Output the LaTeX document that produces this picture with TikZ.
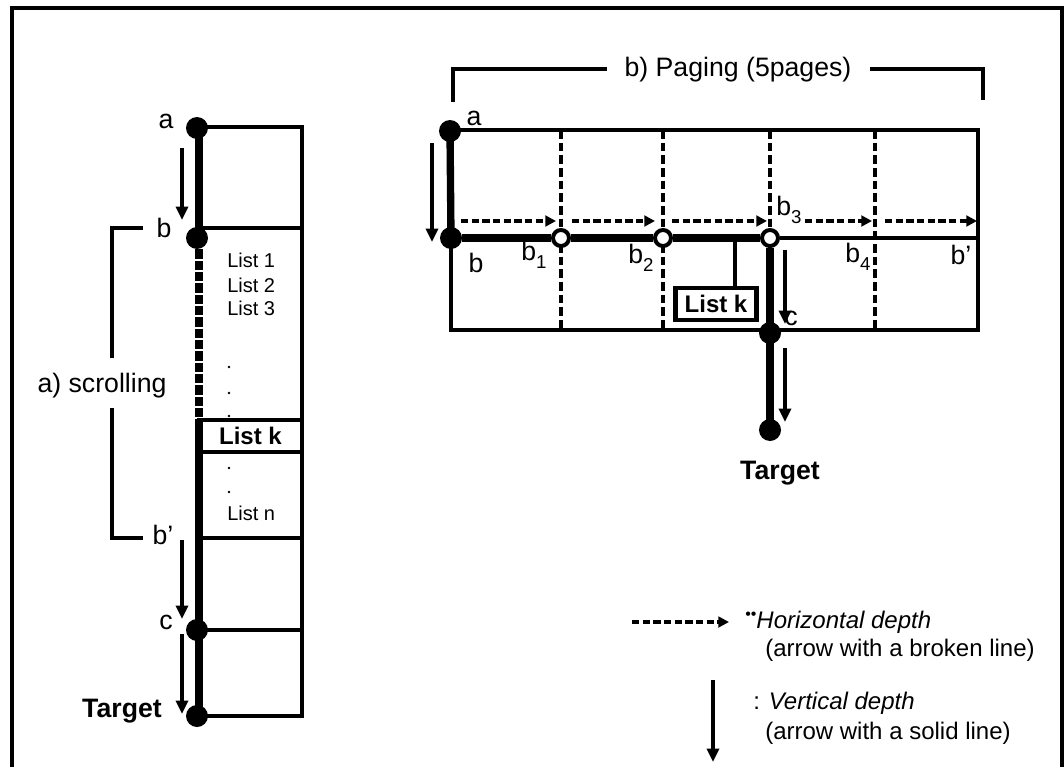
\documentclass[tikz,border=0pt]{standalone}
\usepackage{fontspec}
\setmainfont{Liberation Sans}
\usetikzlibrary{arrows.meta}
\newcommand{\bsub}[1]{b\raisebox{-0.32em}{\fontsize{14}{14}\selectfont #1}}
\begin{document}
\begin{tikzpicture}[x=0.75pt,y=-0.75pt,
  outer/.style={line width=2.4pt},
  frame/.style={line width=3.4pt},
  thickpath/.style={line width=5.5pt},
  thickdash/.style={line width=5.5pt,dash pattern=on 7pt off 1.5pt},
  dot/.style={circle,fill=black,inner sep=0pt,minimum size=16.5pt},
  odot/.style={circle,draw,fill=white,line width=3pt,inner sep=0pt,minimum size=12pt},
  varrow/.style={line width=2.4pt,-{Triangle[length=10pt,width=9pt]}},
  harrow/.style={line width=2.8pt,dash pattern=on 5.5pt off 2.5pt,-{Triangle[length=8pt,width=8pt]}},
  dashv/.style={line width=2.6pt,dash pattern=on 6.5pt off 3pt},
  bracket/.style={line width=3pt},
  link/.style={line width=2.6pt},
  lbl/.style={inner sep=0pt,font=\fontsize{20}{22}\selectfont},
  title/.style={inner sep=0pt,font=\fontsize{20}{22}\selectfont},
  listtxt/.style={inner sep=0pt,anchor=west,font=\fontsize{15}{17}\selectfont},
  listk/.style={draw,line width=3.4pt,inner sep=0pt,font=\bfseries\fontsize{18}{20}\selectfont},
  tgt/.style={inner sep=0pt,font=\bfseries\fontsize{20}{22}\selectfont},
  legend/.style={inner sep=0pt,anchor=west,font=\fontsize{18}{20}\selectfont},
  smalldot/.style={circle,fill=black,inner sep=0pt,minimum size=2.2pt}
]
\useasboundingbox (0,0) rectangle (1064,767);
% outer frame
\draw[outer] (12,767) -- (12,8) -- (1062,8) -- (1062,767);

% ---------- left column (scrolling) ----------
\draw[frame] (199,127) -- (302,127) -- (302,716) -- (199,716);
\draw[frame] (199,228) -- (302,228);
\draw[frame] (199,538) -- (302,538);
\draw[frame] (199,630) -- (302,630);
\node[listk,minimum width=77pt,minimum height=24pt] (Lk) at (250.5,436) {List k};

\node[dot] (La) at (197,128) {};
\node[dot] (Lb) at (197,238) {};
\node[dot] (Lc) at (197,630) {};
\node[dot] (LT) at (197,716) {};
\coordinate (Lkin) at (199,420);
\draw[thickpath] (199,128) -- (199,238);
\draw[thickdash] (199,238) -- (Lkin);
\draw[thickpath] (Lkin) -- (199,716);

\node[listtxt] (l1) at (227,260) {List 1};
\node[listtxt] (l2) at (227,285) {List 2};
\node[listtxt] (l3) at (227,308) {List 3};
\node[smalldot] (d1) at (229,367) {};
\node[smalldot] (d2) at (229,393) {};
\node[smalldot] (d3) at (229,416) {};
\node[smalldot] (d4) at (229,468) {};
\node[smalldot] (d5) at (229,492) {};
\node[listtxt] (ln) at (227,513) {List n};

\node[lbl] (tLa) at (166,121) {a};
\node[lbl] (tLb) at (164,228) {b};
\node[lbl] (tLbp) at (163,535) {b'};
\node[lbl] (tLc) at (166,622) {c};
\node[tgt] (tLT) at (122,711) {Target};

\coordinate (A1s) at (182,148); \coordinate (A1e) at (182,220);
\coordinate (A2s) at (182,540); \coordinate (A2e) at (182,619);
\coordinate (A3s) at (182,634); \coordinate (A3e) at (182,714);
\draw[varrow] (A1s) -- (A1e);
\draw[varrow] (A2s) -- (A2e);
\draw[varrow] (A3s) -- (A3e);

% scrolling bracket
\node[title] (scroll) at (102,386) {a) scrolling};
\draw[bracket] (143,228) -- (112,228) -- (112,358);
\draw[bracket] (112,408) -- (112,538) -- (143,538);

% ---------- right part (paging) ----------
\node[title] (paging) at (738,70) {b) Paging (5pages)};
\draw[bracket] (453,102) -- (453,69) -- (607,69);
\draw[bracket] (870,69) -- (983,69) -- (983,100);

\draw[frame] (451,130) rectangle (978,330);
\foreach \xx in {561,663,770,875} \draw[dashv] (\xx,130) -- (\xx,330);

\node[dot] (Ra) at (450,131) {};
\node[dot] (Rb) at (451,238) {};
\node[odot] (b1) at (561,238) {};
\node[odot] (b2) at (663,238) {};
\node[odot] (b3) at (770,238) {};
\node[dot] (Rc) at (770,333) {};
\node[dot] (RT) at (770,430) {};
\coordinate (Rend) at (978,238);

\draw[thickpath] (Ra.center) -- (Rb.center);
\draw[thickpath] (Rb) -- (b1);
\draw[thickpath] (b1) -- (b2);
\draw[thickpath] (b2) -- (b3);
\draw[frame] (b3) -- (Rend);
\draw[thickpath] (b3) -- (Rc.center) -- (RT.center);

\node[listk,minimum width=61pt,minimum height=24pt] (RLk) at (716,304) {List k};
\draw[link] (RLk.north) ++(19,0) -- ++(0,-50);

\foreach \xs/\xe in {461/556,572/655,672/767,805/872,885/977}
  \draw[harrow] (\xs,221) -- (\xe,221);

\coordinate (V1s) at (432,143); \coordinate (V1e) at (432,242);
\draw[varrow] (V1s) -- (V1e);
\coordinate (V2s) at (785,250); \coordinate (V2e) at (785,324);
\draw[varrow] (V2s) -- (V2e);
\coordinate (V3s) at (785,348); \coordinate (V3e) at (785,422);
\draw[varrow] (V3s) -- (V3e);

\node[lbl] (tRa) at (474,118) {a};
\node[lbl] (tRb) at (476,263) {b};
\node[lbl] (tb1) at (534,255) {\bsub{1}};
\node[lbl] (tb2) at (641,258) {\bsub{2}};
\node[lbl] (tb3) at (789,210) {\bsub{3}};
\node[lbl] (tb4) at (858,257) {\bsub{4}};
\node[lbl] (tbp) at (961,255) {b'};
\node[lbl] (tRc) at (791,318) {c};
\node[tgt] (tRT) at (780,473) {Target};

% ---------- legend ----------
\coordinate (Hs) at (632,622); \coordinate (He) at (729,622);
\draw[harrow] (Hs) -- (He);
\node[legend] (lh1) at (745,622) {\raisebox{0.35em}{\fontsize{12}{12}\selectfont ••}\textit{Horizontal depth}};
\node[legend] (lh2) at (765,650) {(arrow with a broken line)};
\coordinate (Vs) at (713,680); \coordinate (Ve) at (713,762);
\draw[varrow] (Vs) -- (Ve);
\node[legend] (lv1) at (753,703) {: \textit{Vertical depth}};
\node[legend] (lv2) at (765,733) {(arrow with a solid line)};
\end{tikzpicture}
\end{document}
